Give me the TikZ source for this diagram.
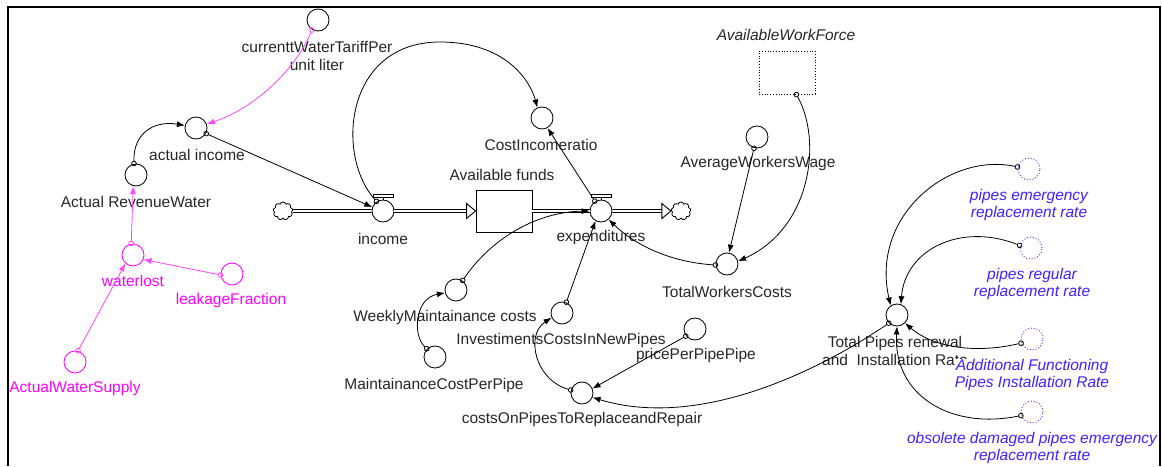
\documentclass[tikz,border=0pt]{standalone}
\usepackage{fontspec}
\setmainfont{Liberation Sans}
\usetikzlibrary{arrows.meta,shapes.symbols,calc}
\definecolor{mag}{RGB}{255,0,255}
\definecolor{magl}{RGB}{255,70,255}
\definecolor{vblue}{RGB}{64,32,255}
\begin{document}
\begin{tikzpicture}[x=1pt,y=-1pt,
  lbl/.style={font=\fontsize{15.5}{17.5}\selectfont, align=center, inner sep=0pt, text=black!85},
  ilbl/.style={lbl, font=\fontsize{15.5}{17.5}\selectfont\itshape},
  blbl/.style={ilbl, text=vblue},
  aux/.style={circle, draw, line width=0.85pt, minimum size=22pt, inner sep=0pt, fill=white},
  ghost/.style={circle, draw=vblue, dotted, line width=0.9pt, minimum size=22pt, inner sep=0pt},
  link/.style={line width=0.8pt, shorten <=-2.5pt, {Circle[open,length=5.5pt,width=5.5pt]}-{Latex[length=8pt,width=6pt]}},
  mlink/.style={link, draw=magl},
  pipe/.style={double, double distance=1.6pt, line width=1pt},
  cloudn/.style={cloud, cloud puffs=9, draw, line width=0.8pt, minimum width=20pt, minimum height=18pt, inner sep=0pt, fill=white},
  stockbox/.style={draw, line width=0.9pt, minimum width=56pt, minimum height=42pt, inner sep=0pt, fill=white},
  tri/.style={draw, line width=0.9pt, fill=white}
]
\useasboundingbox (0,0) rectangle (1162,466);
\draw[line width=1.5pt] (8,466) -- (8,7) -- (1160,7) -- (1160,466);

% left part
\node[aux] (cwt) at (318,20) {};
\node[lbl] (cwtl) at (317,56) {currenttWaterTariffPer\\unit liter};
\node[aux] (ai) at (196,128) {};
\node[lbl] (ail) at (197,155) {actual income};
\node[aux] (arw) at (136,175) {};
\node[lbl] (arwl) at (136,202) {Actual RevenueWater};
\node[aux, draw=mag] (wl) at (133,255) {};
\node[lbl, text=mag] (wll) at (133,281) {waterlost};
\node[aux, draw=mag] (lf) at (232,274) {};
\node[lbl, text=mag] (lfl) at (231,300) {leakageFraction};
\node[aux, draw=mag] (aws) at (75,362) {};
\node[lbl, text=mag] (awsl) at (75,388) {ActualWaterSupply};

% stock and flows
\node[cloudn] (cl) at (283,211) {};
\node[aux] (inc) at (383,211) {};
\node[lbl] (incl) at (383,239) {income};
\node[stockbox] (af) at (504,211) {};
\node[lbl] (afl) at (502,175) {Available funds};
\node[aux] (exp) at (601,211) {};
\node[lbl] (expl) at (601,237) {expenditures};
\node[cloudn] (cr) at (681,211) {};

\draw[pipe] (cl.east) -- (inc.west);
\draw[pipe] (inc.east) -- ($(af.west)+(-9,0)$);
\draw[tri] (af.west) -- ++(-9,-7.5) -- ++(0,15) -- cycle;
\draw[pipe] (af.east) -- (exp.west);
\draw[pipe] (exp.east) -- ($(cr.west)+(-9,0)$);
\draw[tri] (cr.west) -- ++(-9,-7.5) -- ++(0,15) -- cycle;
\foreach \v in {inc,exp}{
  \draw[line width=0.8pt] (\v.north) -- ($(\v.north)+(0,-2.5)$);
  \draw[line width=0.8pt, fill=white] ($(\v.north)+(-10,-2.5)$) rectangle ($(\v.north)+(10,-5.5)$);
}

% middle
\node[aux] (cir) at (542,118) {};
\node[lbl] (cirl) at (541,145) {CostIncomeratio};
\node[draw, dotted, line width=0.8pt, minimum width=56pt, minimum height=43pt, inner sep=0pt] (awf) at (787,72.5) {};
\node[ilbl] (awfl) at (786,35) {AvailableWorkForce};
\node[aux] (aww) at (757,137) {};
\node[lbl] (awwl) at (758,163) {AverageWorkersWage};
\node[aux] (twc) at (727,264) {};
\node[lbl] (twcl) at (727,292) {TotalWorkersCosts};
\node[aux] (wmc) at (456,290) {};
\node[lbl] (wmcl) at (445,317) {WeeklyMaintainance costs};
\node[aux] (mcpp) at (435,357) {};
\node[lbl] (mcppl) at (434,385) {MaintainanceCostPerPipe};
\node[aux] (icnp) at (562,313) {};
\node[lbl] (icnpl) at (561,340) {InvestimentsCostsInNewPipes};
\node[aux] (ppp) at (695,329) {};
\node[lbl] (pppl) at (696,355) {pricePerPipePipe};
\node[aux] (copr) at (582,393) {};
\node[lbl] (coprl) at (582,419) {costsOnPipesToReplaceandRepair};

% right
\node[aux] (tpr) at (897,315) {};
\node[lbl] (tprl) at (895,351) {Total Pipes renewal\\and\ \ Installation Rate};
\node[ghost] (per) at (1029,169) {};
\node[blbl] (perl) at (1029,205) {pipes emergency\\replacement rate};
\node[ghost] (prr) at (1031,248) {};
\node[blbl] (prrl) at (1032,284) {pipes regular\\replacement rate};
\node[ghost] (afr) at (1032,339) {};
\node[blbl, fill=white] (afrl) at (1032,375) {Additional Functioning\\Pipes Installation Rate};
\node[ghost] (odr) at (1032,412) {};
\node[blbl] (odrl) at (1032,448) {obsolete damaged pipes emergency\\replacement rate};

% links
\draw[mlink] (cwt.239) .. controls (295,70) and (255,108) .. (ai.20);
\draw[link] (arw.100) .. controls (133,135) and (152,120) .. (ai.167);
\draw[link] (ai.331) -- (inc.160);
\draw[mlink] (wl.99) -- (arw.256);
\draw[mlink] (lf.185) -- (wl.337);
\draw[mlink] (aws.75) -- (wl.228);
\draw[link] (inc.124) .. controls (335,155) and (345,42) .. (440,42) .. controls (505,42) and (530,80) .. (cir.114);
\draw[link] (exp.122) -- (cir.299);
\draw[link] (wmc.55) .. controls (490,240) and (535,212) .. (exp.180);
\draw[link] (mcpp.135) .. controls (412,335) and (415,298) .. (wmc.195);
\draw[link] (icnp.68) -- (exp.241);
\draw[link] (copr.165) .. controls (535,380) and (525,335) .. (icnp.204);
\draw[link] (ppp.218) -- (copr.23);
\draw[link] (tpr.225) .. controls (820,370) and (700,430) .. (copr.337);
\draw[link] (aww.255) -- (twc.80);
\draw[link] (awf.293) .. controls (822,140) and (812,228) .. (twc.14);
\draw[link] (twc.185) .. controls (670,262) and (635,245) .. (exp.312);
\draw[link] (per.170) .. controls (950,152) and (870,215) .. (tpr.124);
\draw[link] (prr.167) .. controls (960,222) and (905,250) .. (tpr.70);
\draw[link] (afr.201) .. controls (970,355) and (930,345) .. (tpr.315);
\draw[link] (odr.198) .. controls (950,430) and (893,395) .. (tpr.270);
\end{tikzpicture}
\end{document}
